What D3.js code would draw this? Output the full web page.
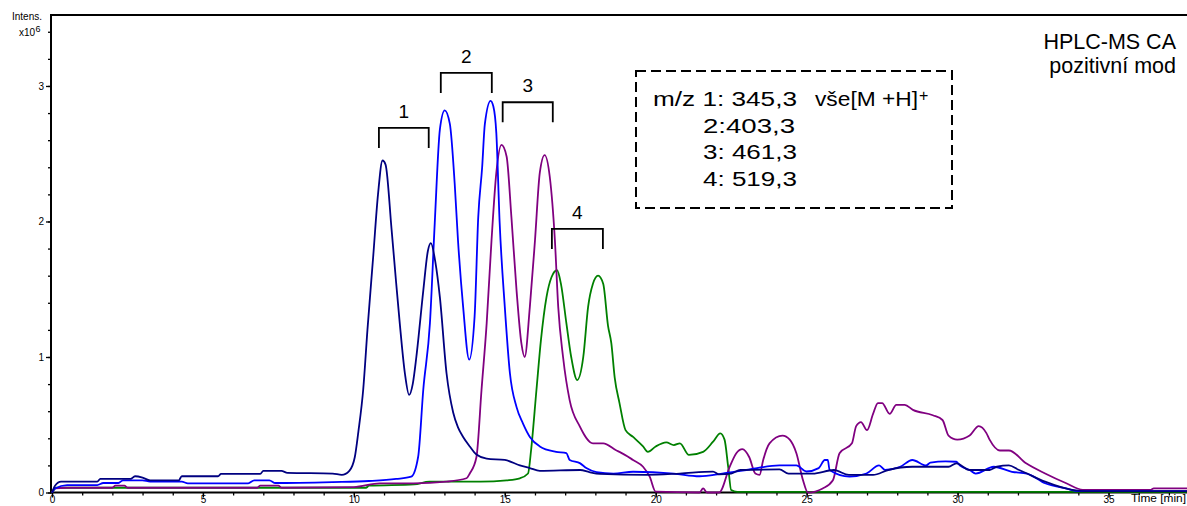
<!DOCTYPE html>
<html>
<head>
<meta charset="UTF-8">
<title>HPLC-MS CA</title>
<style>
body { margin: 0; background: #fff; }
text {
  font-family: "Liberation Sans", Arial, sans-serif;
  fill: #000;
}
.axis path, .axis line { stroke: #000; }
</style>
</head>
<body>

<svg width="1187" height="506"></svg>

<script src="https://d3js.org/d3.v7.min.js"></script>
<script>
// extracted ion chromatograms, [time (min), intensity x10^6]
var traceGreen = [[0,0],[0.15,0.035],[10.4,0.035],[10.5,0.05],[12.0,0.06],[12.5,0.08],[14.2,0.08],[15.06,0.09],[15.5,0.105],
  [15.77,0.14],[15.87,0.31],[16.05,0.76],[16.2,1.13],[16.38,1.44],[16.55,1.59],[16.73,1.64],[16.86,1.54],[17.04,1.25],
  [17.2,1.0],[17.4,0.83],[17.6,1.0],[17.76,1.37],[17.92,1.54],[18.09,1.6],[18.26,1.54],[18.42,1.23],[18.53,1.1],
  [18.64,0.85],[18.8,0.66],[19.0,0.46],[19.25,0.41],[19.58,0.34],[19.74,0.3],[20.0,0.34],[20.35,0.37],[20.6,0.35],
  [20.8,0.363],[21.1,0.277],[21.57,0.3],[21.9,0.375],[22.14,0.437],[22.28,0.39],[22.4,0.19],[22.5,0.018],[22.7,0.005],[37.6,0.005]];

var tracePurple = [[0,0],[0.1,0.03],[0.5,0.035],[2.0,0.035],[2.1,0.05],[2.4,0.05],[2.5,0.035],[6.8,0.035],[6.9,0.05],
  [7.5,0.05],[7.6,0.035],[10.0,0.04],[10.86,0.068],[11.97,0.068],[13.07,0.08],[13.73,0.105],[13.84,0.14],[14.06,0.26],
  [14.23,0.76],[14.4,1.25],[14.56,1.86],[14.72,2.36],[14.89,2.565],[15.06,2.48],[15.22,2.03],[15.39,1.49],[15.55,1.1],
  [15.66,1.0],[15.83,1.37],[16.0,1.86],[16.16,2.36],[16.32,2.49],[16.49,2.33],[16.66,1.86],[16.77,1.37],[16.93,1.0],
  [17.15,0.68],[17.48,0.49],[17.92,0.363],[18.26,0.363],[18.7,0.31],[18.8,0.3],[19.25,0.24],[19.58,0.19],[19.8,0.117],
  [20.0,0.006],[21.45,0],[21.57,0.03],[21.7,0],[22.1,0],[22.45,0.19],[22.67,0.29],[22.87,0.32],[23.1,0.26],[23.3,0.14],
  [23.44,0.13],[23.56,0.24],[23.77,0.363],[24.2,0.42],[24.44,0.39],[24.66,0.29],[24.88,0.09],[25.04,0],[25.53,0.03],
  [25.87,0.09],[26.09,0.29],[26.5,0.363],[26.64,0.49],[26.8,0.52],[27.0,0.46],[27.2,0.58],[27.36,0.66],[27.5,0.66],
  [27.75,0.58],[27.97,0.646],[28.25,0.646],[28.52,0.61],[29.18,0.57],[29.5,0.535],[29.7,0.42],[29.99,0.39],[30.4,0.42],
  [30.7,0.49],[30.95,0.44],[31.06,0.39],[31.4,0.31],[31.7,0.31],[32.27,0.215],[32.9,0.14],[33.6,0.068],[34.15,0.02],
  [36.4,0.02],[36.5,0.03],[37.6,0.03]];

var traceBlue = [[0,0],[0.1,0.03],[0.5,0.055],[1.5,0.055],[1.7,0.07],[2.2,0.07],[2.35,0.09],[3.0,0.09],[3.25,0.08],
  [4.3,0.08],[4.5,0.068],[6.5,0.068],[6.7,0.09],[7.2,0.09],[7.4,0.07],[9.3,0.077],[10.5,0.085],[11.4,0.1],[11.9,0.117],
  [12.13,0.264],[12.3,0.76],[12.52,1.25],[12.68,1.99],[12.85,2.68],[13.01,2.82],[13.18,2.72],[13.34,2.28],[13.45,1.86],
  [13.62,1.37],[13.82,0.98],[14.0,1.3],[14.12,2.03],[14.25,2.4],[14.34,2.72],[14.53,2.89],[14.62,2.85],[14.72,2.65],
  [14.83,1.99],[15.0,1.37],[15.17,0.88],[15.39,0.63],[15.6,0.51],[15.83,0.41],[16.16,0.34],[16.7,0.3],[17.04,0.29],
  [17.15,0.24],[17.5,0.215],[17.7,0.18],[18.04,0.15],[18.6,0.14],[19.25,0.153],[20.6,0.14],[21.45,0.12],[22.2,0.14],
  [23.0,0.166],[24.1,0.2],[24.66,0.2],[24.99,0.155],[25.4,0.18],[25.6,0.24],[25.7,0.24],[25.76,0.166],[26.42,0.117],
  [26.98,0.14],[27.4,0.2],[27.6,0.166],[28.1,0.19],[28.5,0.24],[28.96,0.2],[29.1,0.22],[29.6,0.23],[29.96,0.227],
  [30.07,0.2],[30.4,0.166],[30.6,0.14],[31.2,0.19],[31.8,0.153],[32.3,0.14],[32.9,0.068],[33.6,0.03],[34.0,0.01],[37.6,0.01]];

var traceNavy = [[0,0],[0.1,0.05],[0.3,0.08],[1.5,0.08],[1.6,0.1],[2.6,0.1],[2.75,0.12],[3.0,0.11],[3.25,0.09],[4.2,0.09],
  [4.3,0.12],[5.5,0.12],[5.6,0.137],[6.9,0.137],[7.0,0.16],[7.6,0.16],[7.8,0.145],[9.3,0.14],[9.6,0.13],[9.85,0.16],
  [10.03,0.26],[10.15,0.45],[10.31,0.76],[10.45,1.2],[10.64,1.74],[10.8,2.2],[10.95,2.45],[11.05,2.42],[11.25,1.94],
  [11.4,1.55],[11.52,1.25],[11.69,0.88],[11.83,0.72],[11.95,0.8],[12.07,1.0],[12.3,1.49],[12.45,1.78],[12.55,1.84],
  [12.7,1.7],[12.85,1.44],[13.07,0.88],[13.29,0.59],[13.45,0.48],[13.62,0.41],[13.84,0.34],[14.06,0.28],[14.4,0.25],
  [15.0,0.24],[15.5,0.2],[15.83,0.18],[16.16,0.16],[17.5,0.166],[17.8,0.15],[18.15,0.137],[19.7,0.13],[20.8,0.14],
  [21.9,0.154],[22.1,0.134],[22.5,0.14],[22.8,0.166],[24.1,0.17],[24.4,0.14],[25.2,0.14],[25.9,0.166],[26.4,0.13],
  [27.2,0.13],[27.7,0.166],[28.5,0.19],[29.7,0.19],[29.96,0.215],[30.4,0.166],[31.06,0.166],[31.3,0.19],[31.7,0.2],
  [32.0,0.17],[32.3,0.14],[32.9,0.08],[33.8,0.02],[34.26,0.01],[37.6,0.01]];

var traces = [traceGreen, tracePurple, traceBlue, traceNavy];
var traceColors = ["#008000", "#800080", "#0000ff", "#000080"];

var xMajor = [0, 5, 10, 15, 20, 25, 30, 35];
var yMajor = [0, 1, 2, 3];

// peak group brackets (time from / to, intensity of the bracket top)
var groupNames = ["1", "2", "3", "4"];
var groupFrom = [10.83, 12.88, 14.93, 16.56];
var groupTo = [12.48, 14.57, 16.59, 18.25];
var groupTop = [2.69, 3.096, 2.88, 1.945];

var legendLines = ["m/z 1: 345,3", "2:403,3", "3: 461,3", "4: 519,3"];
var legendIon = "vše[M +H]";
var titleLines = ["HPLC-MS CA", "pozitivní mod"];

var svg = d3.select("svg"),
    width = +svg.attr("width"),
    height = +svg.attr("height");

var x = d3.scaleLinear().domain([0, 37.6]).range([52, width]);
var y = d3.scaleLinear().domain([0, 3.52]).range([492.5, 15.5]);

// frame top
svg.append("line")
  .attr("x1", 50).attr("x2", width)
  .attr("y1", 15).attr("y2", 15)
  .attr("stroke", "#000").attr("stroke-width", 2);

// x axis, minor then major ticks
var xMinor = svg.append("g").attr("class", "axis")
  .attr("transform", "translate(0," + y(0) + ")")
  .call(d3.axisBottom(x).tickValues(d3.range(0, 38, 1)).tickSize(3).tickSizeOuter(0).tickFormat(""));
xMinor.select(".domain").remove();
xMinor.selectAll("line").attr("stroke-width", 1.3);

var xAxis = svg.append("g").attr("class", "axis")
  .attr("transform", "translate(0," + y(0) + ")")
  .call(d3.axisBottom(x).tickValues(xMajor).tickSize(5).tickSizeOuter(0));
xAxis.select(".domain").attr("stroke-width", 2).attr("d", "M51,0H" + width);
xAxis.selectAll("line").attr("stroke-width", 1.3);
// labels sit right on the lower edge, as in the source picture
xAxis.selectAll("text")
  .attr("y", 3)
  .style("font-size", "10px")
  .style("font-family", "Liberation Sans, Arial, sans-serif");

svg.append("text")
  .attr("x", 1131).attr("y", 502)
  .attr("textLength", 55).attr("lengthAdjust", "spacingAndGlyphs")
  .style("font-size", "10px")
  .text("Time [min]");

// y axis
var yMinor = svg.append("g").attr("class", "axis")
  .attr("transform", "translate(51,0)")
  .call(d3.axisLeft(y).tickValues(d3.range(0, 3.41, 0.2)).tickSize(3).tickSizeOuter(0).tickFormat(""));
yMinor.select(".domain").remove();
yMinor.selectAll("line").attr("stroke-width", 1.3);

var yAxis = svg.append("g").attr("class", "axis")
  .attr("transform", "translate(51,0)")
  .call(d3.axisLeft(y).tickValues(yMajor).tickSize(5).tickSizeOuter(0).tickPadding(2).tickFormat(d3.format("d")));
yAxis.select(".domain").attr("stroke-width", 2).attr("d", "M0,15V" + (y(0) + 1));
yAxis.selectAll("line").attr("stroke-width", 1.3);
yAxis.selectAll("text").style("font-size", "10px").style("font-family", "Liberation Sans, Arial, sans-serif");

svg.append("text").attr("x", 42).attr("y", 19.5).attr("text-anchor", "end")
  .style("font-size", "10px").text("Intens.");
svg.append("text").attr("x", 35).attr("y", 35.5).attr("text-anchor", "end")
  .style("font-size", "10px").text("x10");
svg.append("text").attr("x", 35.5).attr("y", 31.5)
  .style("font-size", "9px").text("6");

// traces
var line = d3.line()
  .curve(d3.curveMonotoneX)
  .x(function(d) { return x(d[0]); })
  .y(function(d) { return y(d[1]); });

svg.append("g").selectAll("path")
  .data(traces)
  .enter().append("path")
  .attr("d", line)
  .attr("fill", "none")
  .attr("stroke", function(d, i) { return traceColors[i]; })
  .attr("stroke-width", 1.8)
  .attr("stroke-linejoin", "round");

// brackets over the peak pairs
var brackets = svg.append("g").selectAll("g")
  .data(groupNames)
  .enter().append("g");

brackets.append("path")
  .attr("d", function(d, i) {
    var x0 = x(groupFrom[i]), x1 = x(groupTo[i]), yt = y(groupTop[i]);
    return "M" + x0 + "," + (yt + 20) + "V" + yt + "H" + x1 + "V" + (yt + 20);
  })
  .attr("fill", "none")
  .attr("stroke", "#000")
  .attr("stroke-width", 1.8);

brackets.append("text")
  .attr("x", function(d, i) { return (x(groupFrom[i]) + x(groupTo[i])) / 2; })
  .attr("y", function(d, i) { return y(groupTop[i]) - 10; })
  .attr("text-anchor", "middle")
  .style("font-size", "19px")
  .text(function(d) { return d; });

// legend box
svg.append("rect")
  .attr("x", 636).attr("y", 71)
  .attr("width", 316).attr("height", 137)
  .attr("fill", "none")
  .attr("stroke", "#000")
  .attr("stroke-width", 2)
  .attr("stroke-dasharray", "10,5");

svg.selectAll(".legend")
  .data(legendLines)
  .enter().append("text")
  .attr("class", "legend")
  .attr("x", function(d, i) { return i == 0 ? 653 : 703; })
  .attr("y", function(d, i) { return 106 + i * 26.7; })
  .attr("textLength", function(d, i) { return i == 0 ? 144 : (i == 1 ? 92 : 94); })
  .attr("lengthAdjust", "spacingAndGlyphs")
  .style("font-size", "20px")
  .text(function(d) { return d; });

svg.append("text")
  .attr("x", 815).attr("y", 106)
  .attr("textLength", 103).attr("lengthAdjust", "spacingAndGlyphs")
  .style("font-size", "20px")
  .text(legendIon);
svg.append("text")
  .attr("x", 919).attr("y", 101)
  .style("font-size", "16px")
  .text("+");

// title
svg.selectAll(".title")
  .data(titleLines)
  .enter().append("text")
  .attr("class", "title")
  .attr("x", 1176)
  .attr("y", function(d, i) { return 49 + i * 23.5; })
  .attr("text-anchor", "end")
  .style("font-size", "21.5px")
  .text(function(d) { return d; });
</script>

</body>
</html>
